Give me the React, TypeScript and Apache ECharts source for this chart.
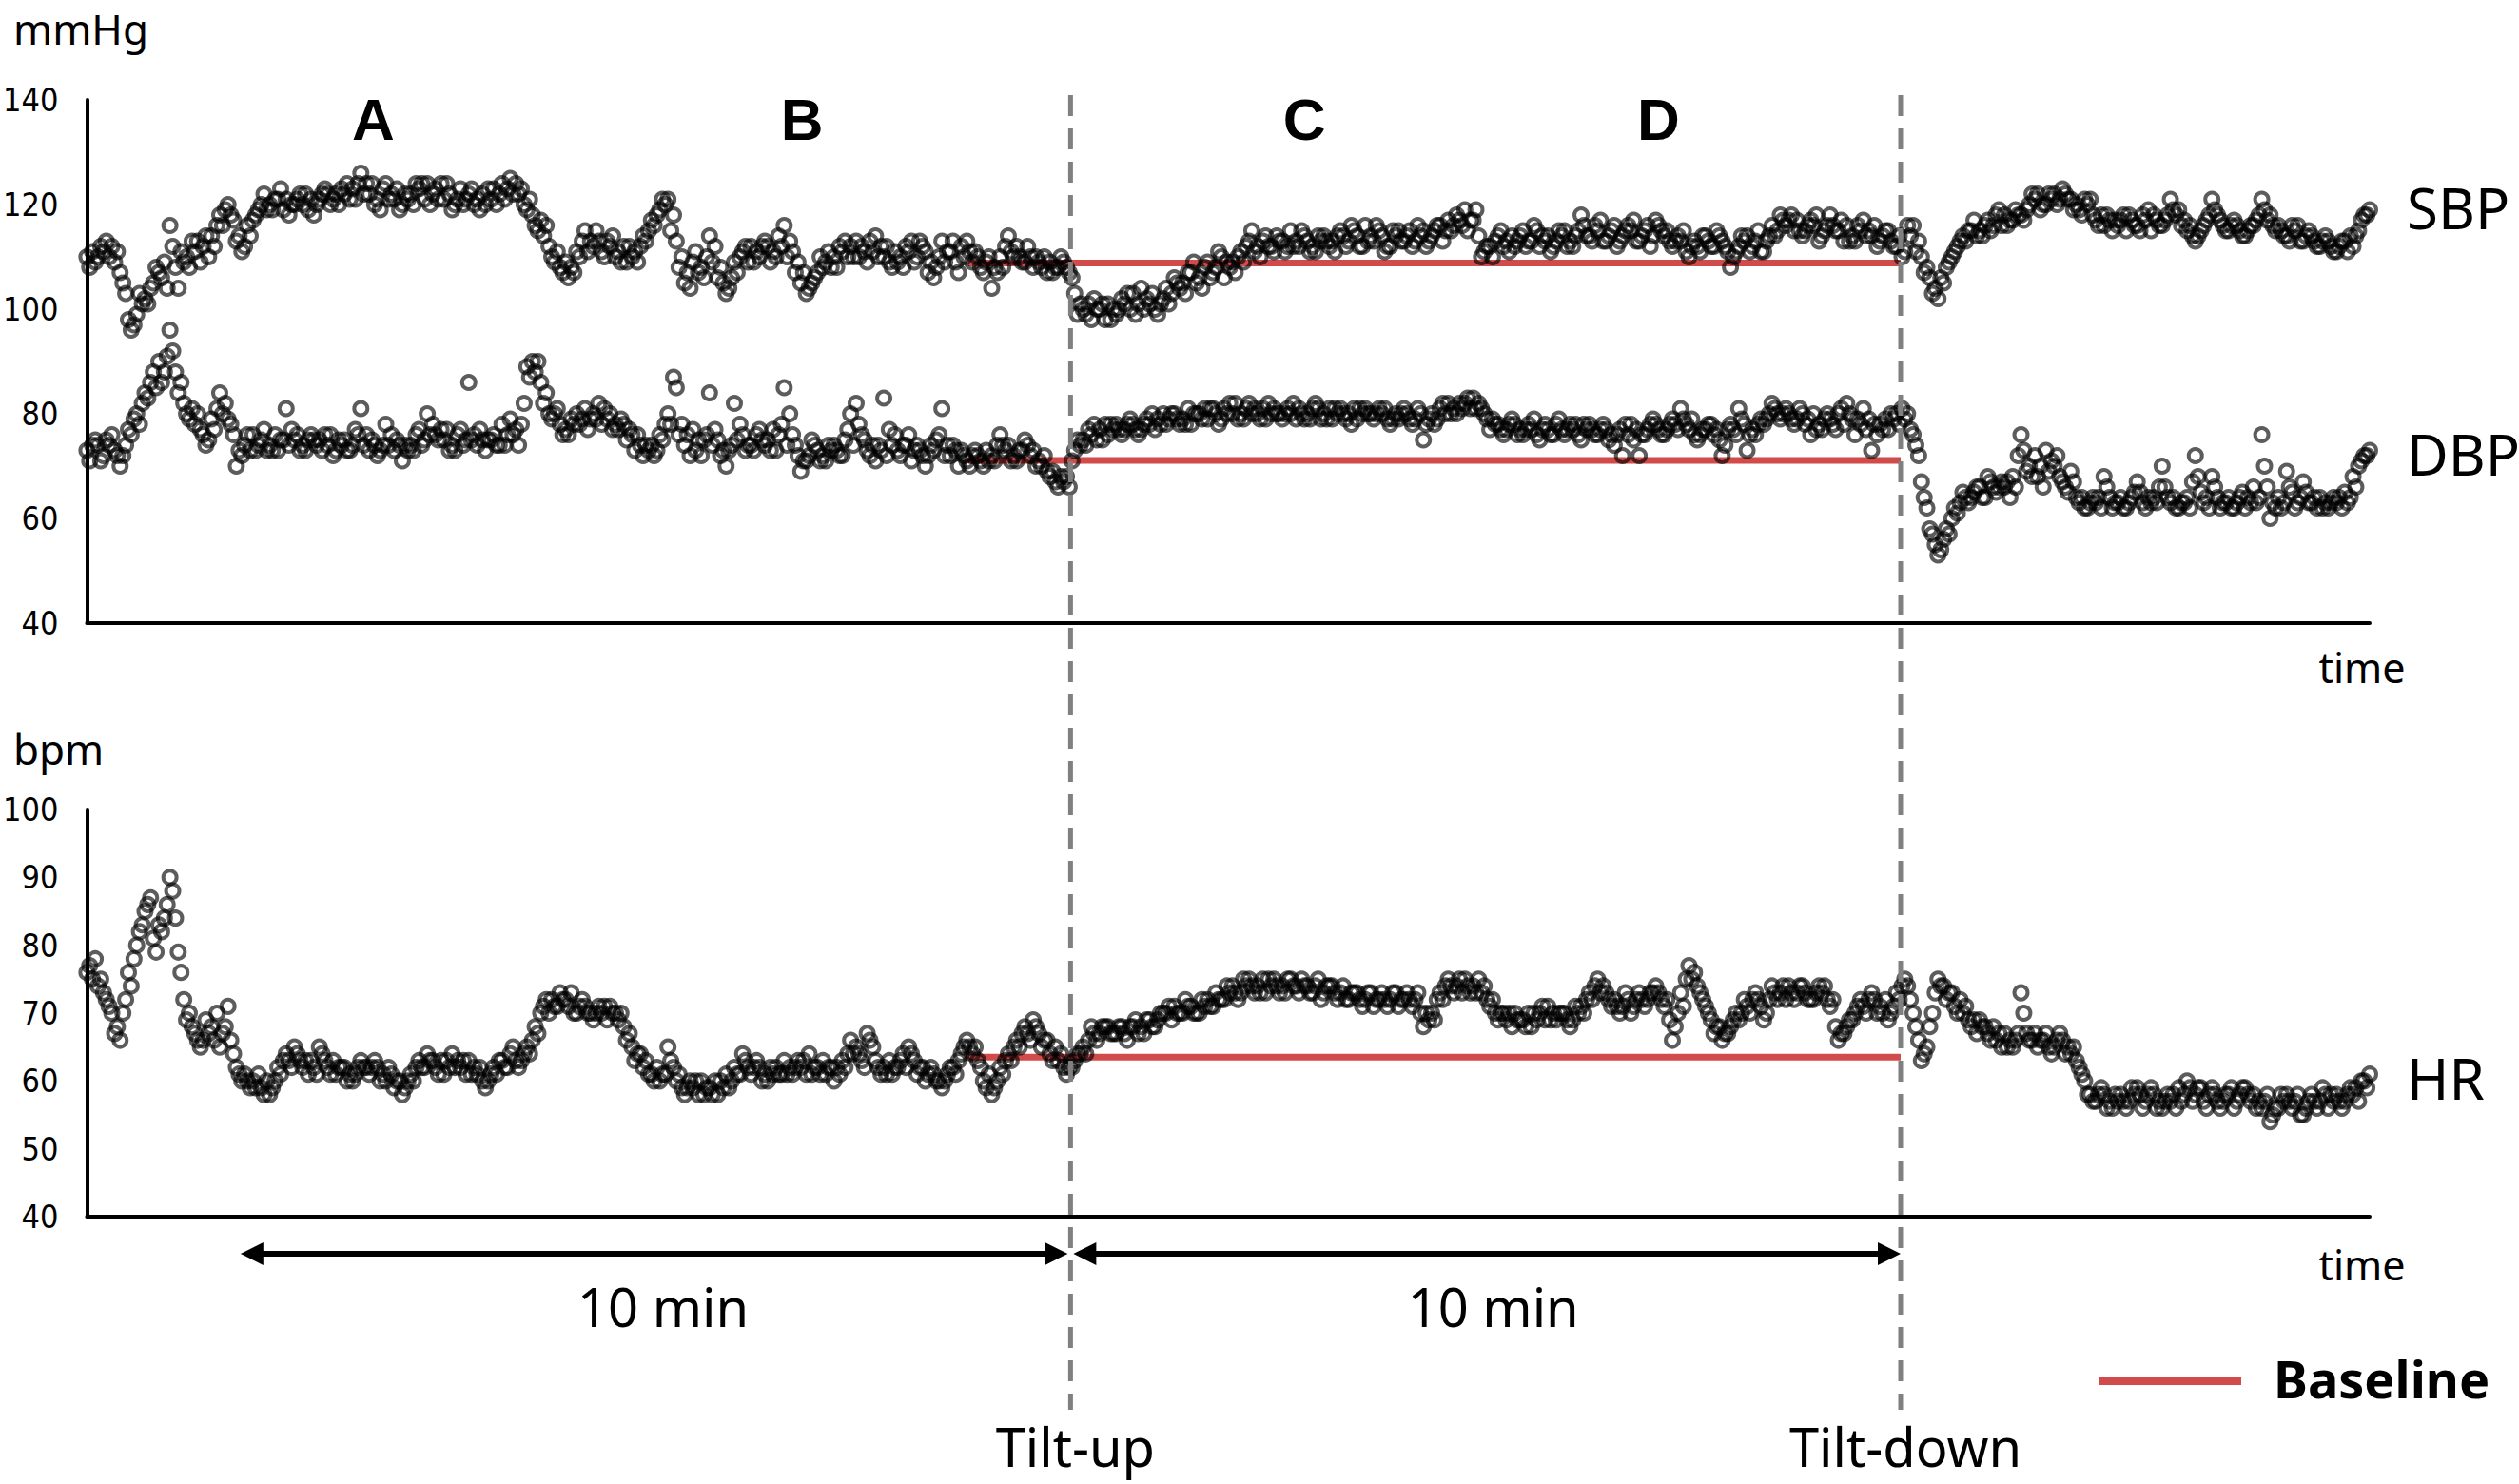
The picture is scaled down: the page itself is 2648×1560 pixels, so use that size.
import React, { useEffect, useRef } from "react";
import * as echarts from "echarts";

// ---------- data ----------
// Each series is read from the picture on three interleaved grids:
// "A" readings at t = 0, 6, 12 ... s, "C" readings at t = 2, 8, 14 ... s
// and "B" readings at t = 4, 10, 16 ... s.
const STEP_SECONDS = 6;
const OFFSET_B = 4;
const OFFSET_C = 2;
const TIME_MAX = 1650; // seconds on the time axis

const sbpA = [
  110, 109, 111, 112, 107, 98, 99, 102, 105, 106,
  116, 104, 110, 111, 112, 114, 118, 120, 113, 112,
  117, 120, 120, 121, 121, 120, 120, 121, 121, 122,
  122, 122, 123, 126, 122, 121, 124, 121, 120, 122,
  123, 124, 123, 121, 119, 123, 122, 121, 120, 123,
  124, 125, 122, 119, 116, 114, 110, 108, 106, 111,
  115, 112, 111, 112, 111, 109, 111, 114, 117, 119,
  121, 113, 105, 109, 108, 114, 106, 103, 109, 111,
  112, 110, 112, 110, 116, 111, 105, 104, 107, 109,
  110, 111, 112, 110, 109, 114, 110, 108, 110, 111,
  110, 111, 106, 113, 111, 107, 113, 111, 107, 104,
  110, 114, 112, 109, 108, 108, 109, 108, 108, 103,
  100, 98, 100, 101, 99, 101, 103, 104, 101, 99,
  104, 106, 105, 107, 106, 109, 108, 106, 109, 111,
  113, 112, 114, 111, 113, 115, 112, 113, 111, 114,
  113, 115, 113, 114, 116, 113, 114, 112, 115, 114,
  113, 115, 114, 116, 117, 118, 119, 117, 110, 112,
  114, 113, 112, 115, 113, 112, 114, 113, 115, 112,
  118, 114, 115, 113, 116, 114, 115, 113, 116, 117,
  114, 112, 113, 110, 112, 114, 112, 113, 108, 112,
  114, 113, 111, 116, 118, 117, 117, 115, 116, 114,
  118, 115, 116, 113, 117, 114, 113, 115, 112, 111,
  116, 110, 106, 102, 108, 111, 114, 115, 115, 117,
  118, 118, 117, 118, 120, 122, 120, 122, 123, 121,
  119, 120, 117, 116, 115, 117, 118, 116, 117, 118,
  116, 121, 119, 115, 113, 116, 121, 117, 115, 116,
  114, 116, 121, 118, 116, 114, 115, 113, 114, 112,
  113, 111, 113, 112, 117, 119,
];
const sbpB = [
  111, 112, 110, 111, 103, 97, 101, 104, 107, 104,
  108, 109, 113, 109, 110, 116, 119, 117, 111, 114,
  119, 119, 121, 119, 120, 122, 119, 120, 123, 121,
  123, 121, 124, 124, 120, 123, 122, 119, 121, 124,
  121, 122, 124, 122, 121, 121, 120, 122, 121, 122,
  123, 124, 120, 118, 117, 112, 111, 109, 107, 113,
  113, 113, 113, 110, 112, 110, 112, 115, 118, 120,
  118, 110, 104, 107, 110, 112, 105, 106, 110, 109,
  111, 113, 111, 112, 113, 109, 103, 106, 108, 108,
  112, 110, 113, 111, 111, 112, 109, 109, 112, 109,
  112, 109, 110, 111, 109, 110, 109, 108, 110, 107,
  112, 110, 109, 110, 109, 107, 108, 109, 106, 101,
  101, 100, 98, 100, 102, 100, 101, 102, 100, 102,
  103, 104, 107, 105, 108, 107, 110, 108, 110, 112,
  111, 113, 112, 113, 112, 113, 114, 112, 113, 112,
  114, 112, 115, 112, 114, 115, 112, 114, 113, 112,
  114, 113, 116, 115, 116, 116, 117, 114, 112, 113,
  112, 114, 114, 113, 115, 113, 112, 114, 113, 115,
  114, 116, 113, 115, 113, 116, 113, 115, 114, 115,
  113, 114, 111, 113, 114, 112, 114, 111, 111, 113,
  112, 111, 114, 115, 116, 115, 114, 117, 113, 116,
  115, 113, 114, 115, 115, 112, 115, 112, 110, 114,
  113, 108, 104, 105, 110, 113, 115, 114, 116, 116,
  116, 117, 118, 119, 121, 120, 121, 121, 121, 120,
  121, 118, 118, 117, 116, 115, 116, 118, 115, 116,
  118, 118, 117, 114, 115, 118, 118, 115, 117, 114,
  116, 118, 117, 115, 114, 116, 113, 115, 112, 114,
  111, 113, 114, 115, 118,
];
const sbpC = [
  108, 110, 113, 109, 105, 96, 103, 101, 108, 109,
  112, 111, 108, 113, 114, 112, 116, 118, 114, 116,
  118, 122, 119, 123, 118, 121, 122, 118, 122, 120,
  120, 124, 121, 122, 124, 119, 121, 123, 122, 120,
  124, 120, 121, 124, 120, 120, 123, 119, 123, 120,
  121, 122, 123, 121, 115, 116, 109, 107, 108, 110,
  111, 115, 110, 114, 109, 112, 109, 113, 116, 121,
  115, 108, 107, 111, 106, 109, 108, 104, 107, 112,
  109, 112, 109, 114, 110, 107, 107, 105, 110, 111,
  108, 113, 110, 112, 113, 110, 112, 111, 108, 113,
  113, 107, 108, 109, 113, 112, 111, 110, 109, 108,
  108, 111, 110, 112, 110, 110, 107, 110, 107, 99,
  99, 102, 101, 98, 100, 103, 99, 100, 103, 101,
  101, 105, 103, 109, 104, 106, 111, 109, 107, 109,
  115, 110, 112, 114, 111, 112, 115, 111, 114, 113,
  111, 114, 116, 112, 113, 116, 111, 115, 113, 115,
  116, 112, 115, 113, 115, 117, 115, 119, 111, 110,
  115, 111, 113, 112, 116, 114, 111, 115, 112, 114,
  116, 113, 117, 114, 112, 115, 117, 114, 112, 116,
  115, 113, 115, 112, 111, 113, 115, 112, 110, 114,
  111, 115, 113, 114, 117, 118, 115, 116, 118, 115,
  116, 117, 113, 116, 114, 116, 114, 113, 114, 116,
  111, 107, 103, 106, 109, 112, 113, 117, 114, 115,
  119, 116, 119, 117, 122, 119, 122, 120, 122, 119,
  118, 121, 116, 118, 117, 118, 117, 115, 119, 117,
  117, 119, 116, 116, 114, 117, 119, 116, 116, 115,
  115, 117, 119, 116, 115, 113, 116, 114, 113, 113,
  112, 112, 111, 114, 118,
];

const dbpA = [
  73, 75, 72, 76, 70, 77, 80, 84, 88, 86,
  96, 84, 80, 78, 76, 79, 84, 79, 70, 74,
  76, 75, 74, 73, 81, 75, 74, 76, 75, 74,
  73, 75, 74, 81, 73, 72, 78, 73, 71, 74,
  77, 80, 76, 75, 74, 77, 86, 74, 73, 76,
  78, 79, 74, 89, 88, 82, 79, 78, 76, 80,
  81, 80, 78, 80, 77, 75, 73, 72, 74, 76,
  80, 85, 74, 77, 72, 84, 75, 70, 82, 76,
  74, 77, 75, 73, 85, 76, 69, 72, 73, 71,
  74, 72, 80, 78, 73, 71, 83, 74, 72, 76,
  74, 70, 73, 81, 72, 70, 71, 73, 70, 72,
  76, 74, 71, 75, 73, 70, 68, 66, 68, 73,
  75, 76, 77, 76, 78, 77, 78, 77, 78, 79,
  78, 80, 79, 78, 80, 79, 80, 81, 80, 80,
  82, 80, 79, 81, 79, 80, 81, 80, 82, 80,
  79, 81, 80, 79, 81, 79, 80, 78, 79, 80,
  79, 75, 80, 81, 82, 80, 82, 83, 81, 77,
  78, 77, 78, 76, 77, 75, 77, 78, 76, 77,
  75, 78, 76, 77, 74, 72, 78, 72, 77, 78,
  76, 79, 81, 77, 75, 77, 76, 72, 78, 81,
  73, 76, 78, 82, 79, 80, 79, 78, 80, 77,
  79, 80, 82, 76, 81, 73, 78, 77, 80, 79,
  76, 67, 58, 53, 58, 62, 65, 64, 66, 68,
  65, 66, 68, 76, 70, 68, 73, 70, 67, 69,
  63, 62, 63, 68, 62, 64, 63, 67, 62, 64,
  70, 63, 62, 64, 72, 63, 68, 62, 64, 63,
  62, 66, 76, 60, 64, 69, 62, 67, 63, 64,
  62, 63, 65, 68, 71, 73,
];
const dbpB = [
  74, 71, 74, 72, 74, 79, 82, 86, 90, 91,
  88, 82, 81, 77, 75, 81, 82, 76, 72, 73,
  74, 73, 76, 75, 77, 73, 75, 74, 76, 72,
  74, 73, 76, 76, 74, 74, 76, 74, 73, 76,
  75, 78, 77, 73, 76, 75, 76, 75, 75, 74,
  76, 77, 82, 90, 86, 80, 81, 77, 78, 79,
  79, 82, 79, 78, 78, 76, 74, 73, 73, 78,
  87, 78, 72, 75, 76, 77, 73, 74, 78, 74,
  76, 74, 77, 78, 80, 72, 71, 74, 72, 73,
  72, 77, 82, 75, 74, 73, 77, 73, 74, 73,
  72, 74, 76, 74, 73, 72, 72, 71, 71, 74,
  73, 72, 73, 72, 71, 69, 67, 67, 71, 74,
  77, 75, 78, 77, 76, 79, 76, 79, 77, 80,
  80, 78, 81, 80, 81, 81, 79, 82, 79, 81,
  81, 81, 80, 80, 81, 79, 79, 81, 79, 81,
  80, 79, 81, 80, 80, 81, 79, 80, 81, 78,
  80, 79, 79, 80, 81, 81, 81, 82, 79, 78,
  76, 79, 77, 78, 76, 78, 76, 77, 78, 76,
  77, 76, 78, 76, 77, 76, 77, 76, 79, 76,
  78, 77, 78, 76, 77, 78, 75, 77, 76, 78,
  77, 79, 80, 80, 81, 78, 80, 76, 78, 80,
  77, 78, 79, 78, 79, 76, 79, 79, 81, 77,
  72, 62, 55, 56, 60, 63, 63, 66, 64, 66,
  67, 64, 72, 69, 72, 66, 71, 68, 65, 64,
  62, 64, 62, 64, 63, 62, 65, 63, 63, 66,
  64, 62, 63, 67, 65, 62, 64, 63, 62, 65,
  63, 64, 66, 62, 63, 65, 64, 63, 62, 63,
  64, 62, 64, 70, 72,
];
const dbpC = [
  71, 74, 75, 73, 72, 76, 78, 83, 85, 88,
  92, 86, 79, 80, 74, 77, 80, 78, 73, 76,
  73, 77, 73, 75, 74, 76, 73, 75, 73, 76,
  75, 73, 77, 74, 75, 73, 74, 75, 74, 73,
  74, 76, 75, 77, 73, 74, 75, 77, 75, 74,
  74, 76, 78, 87, 90, 84, 80, 76, 79, 78,
  77, 79, 81, 77, 79, 77, 76, 74, 72, 75,
  78, 76, 76, 73, 75, 74, 72, 73, 75, 73,
  73, 75, 73, 76, 74, 74, 71, 75, 71, 74,
  73, 75, 74, 76, 72, 74, 72, 76, 74, 71,
  73, 72, 75, 72, 74, 73, 70, 72, 73, 71,
  74, 71, 73, 74, 70, 72, 69, 68, 66, 75,
  74, 78, 75, 78, 77, 78, 77, 78, 80, 78,
  79, 79, 78, 80, 79, 81, 78, 80, 82, 79,
  80, 79, 82, 80, 80, 82, 80, 79, 81, 79,
  81, 80, 78, 81, 80, 80, 81, 79, 80, 79,
  81, 78, 78, 82, 80, 82, 83, 81, 80, 79,
  77, 78, 76, 77, 79, 77, 76, 79, 77, 78,
  78, 77, 77, 75, 76, 78, 75, 76, 78, 77,
  77, 78, 79, 79, 76, 78, 77, 74, 77, 79,
  76, 78, 79, 81, 80, 79, 81, 79, 77, 79,
  78, 81, 80, 79, 77, 78, 77, 80, 78, 80,
  74, 64, 57, 54, 57, 61, 64, 65, 64, 67,
  66, 67, 66, 73, 68, 70, 69, 72, 66, 67,
  64, 63, 64, 66, 63, 62, 64, 65, 64, 63,
  66, 64, 63, 62, 68, 64, 66, 63, 62, 64,
  64, 63, 70, 63, 62, 66, 63, 65, 64, 62,
  63, 64, 63, 66, 72,
];

const hrA = [
  76, 78, 73, 70, 66, 76, 80, 85, 81, 82,
  90, 79, 69, 67, 66, 68, 65, 71, 62, 61,
  60, 59, 58, 62, 64, 65, 62, 63, 65, 62,
  61, 62, 60, 63, 61, 62, 60, 59, 58, 61,
  63, 64, 62, 61, 64, 62, 63, 61, 59, 62,
  63, 64, 62, 65, 68, 71, 72, 73, 71, 70,
  71, 69, 70, 71, 69, 66, 63, 62, 61, 60,
  65, 60, 58, 59, 60, 59, 58, 61, 62, 64,
  61, 62, 60, 62, 63, 61, 62, 64, 62, 61,
  60, 63, 66, 64, 67, 63, 62, 61, 63, 65,
  61, 60, 61, 59, 62, 63, 66, 65, 60, 58,
  62, 64, 66, 68, 69, 65, 64, 63, 61, 63,
  65, 68, 67, 68, 67, 67, 68, 68, 69, 69,
  70, 71, 70, 71, 70, 72, 73, 72, 74, 73,
  75, 74, 73, 75, 74, 75, 73, 74, 74, 73,
  74, 73, 72, 73, 72, 71, 73, 72, 71, 73,
  72, 68, 70, 73, 75, 74, 75, 74, 73, 71,
  69, 69, 70, 69, 68, 70, 71, 69, 70, 69,
  71, 73, 75, 73, 72, 71, 70, 73, 72, 74,
  71, 66, 73, 77, 74, 71, 67, 66, 68, 69,
  71, 73, 69, 74, 73, 74, 73, 73, 72, 73,
  71, 66, 68, 70, 71, 73, 71, 69, 73, 75,
  70, 63, 68, 75, 72, 71, 70, 68, 69, 67,
  66, 67, 65, 73, 66, 65, 67, 65, 66, 64,
  62, 58, 57, 58, 56, 58, 57, 59, 57, 58,
  56, 57, 59, 60, 58, 57, 59, 56, 58, 57,
  59, 58, 56, 54, 56, 58, 57, 55, 58, 57,
  56, 58, 57, 58, 60, 61,
];
const hrB = [
  75, 75, 71, 68, 72, 78, 83, 87, 83, 86,
  84, 72, 68, 65, 67, 70, 68, 64, 60, 59,
  61, 60, 60, 63, 62, 63, 61, 61, 63, 63,
  62, 61, 62, 62, 63, 61, 61, 60, 60, 62,
  62, 63, 63, 62, 63, 61, 62, 60, 61, 63,
  62, 63, 64, 66, 70, 70, 71, 72, 70, 72,
  70, 71, 69, 70, 68, 65, 64, 61, 62, 61,
  62, 59, 60, 58, 59, 60, 59, 60, 61, 62,
  63, 61, 61, 61, 62, 63, 61, 62, 63, 62,
  61, 64, 65, 62, 65, 61, 63, 62, 62, 63,
  62, 62, 60, 61, 61, 65, 64, 62, 61, 60,
  63, 65, 67, 66, 67, 66, 65, 62, 62, 64,
  66, 66, 68, 67, 68, 68, 67, 69, 68, 70,
  69, 70, 71, 70, 71, 71, 72, 73, 72, 74,
  73, 75, 74, 73, 75, 74, 74, 73, 72, 74,
  72, 72, 73, 71, 73, 72, 71, 73, 72, 71,
  70, 69, 72, 74, 73, 73, 73, 75, 72, 70,
  70, 68, 69, 70, 69, 69, 70, 70, 68, 70,
  72, 74, 74, 71, 70, 72, 72, 71, 73, 72,
  69, 70, 75, 76, 72, 69, 68, 67, 70, 72,
  72, 71, 72, 72, 72, 72, 74, 72, 74, 72,
  68, 67, 69, 72, 72, 70, 72, 71, 74, 72,
  66, 65, 73, 74, 73, 72, 69, 67, 68, 68,
  65, 66, 67, 67, 67, 66, 64, 67, 65, 63,
  60, 57, 59, 57, 57, 56, 58, 56, 59, 57,
  58, 56, 58, 57, 59, 58, 57, 58, 56, 59,
  57, 57, 58, 56, 57, 56, 55, 57, 56, 58,
  57, 56, 59, 57, 59,
];
const hrC = [
  77, 74, 72, 67, 70, 74, 82, 86, 79, 84,
  88, 76, 70, 66, 69, 66, 67, 66, 61, 60,
  59, 58, 59, 61, 63, 64, 63, 62, 64, 61,
  62, 60, 61, 62, 62, 60, 62, 60, 59, 60,
  62, 63, 61, 63, 62, 63, 61, 62, 60, 61,
  62, 65, 63, 64, 67, 72, 71, 72, 73, 71,
  70, 70, 71, 70, 70, 67, 64, 63, 60, 61,
  63, 61, 59, 60, 58, 58, 60, 59, 61, 63,
  62, 60, 62, 61, 61, 62, 63, 61, 61, 62,
  62, 62, 64, 63, 66, 62, 61, 62, 64, 64,
  62, 61, 60, 60, 62, 64, 65, 63, 59, 59,
  61, 63, 65, 67, 68, 66, 63, 64, 62, 64,
  64, 67, 68, 67, 68, 66, 69, 67, 68, 70,
  71, 70, 72, 70, 72, 71, 72, 74, 73, 75,
  74, 73, 75, 74, 73, 74, 75, 73, 75, 74,
  73, 74, 73, 72, 73, 72, 72, 73, 72, 72,
  73, 70, 69, 72, 74, 75, 74, 73, 74, 72,
  70, 70, 69, 68, 70, 71, 69, 70, 69, 71,
  70, 72, 73, 72, 71, 73, 71, 72, 73, 73,
  72, 68, 71, 75, 73, 70, 68, 67, 69, 70,
  70, 72, 70, 73, 74, 73, 74, 72, 73, 74,
  72, 67, 69, 71, 70, 72, 70, 70, 72, 74,
  68, 64, 70, 74, 73, 70, 71, 69, 68, 66,
  67, 65, 66, 70, 66, 66, 65, 66, 64, 65,
  61, 58, 58, 56, 58, 57, 59, 58, 58, 56,
  57, 58, 57, 59, 59, 56, 58, 57, 59, 58,
  58, 56, 57, 55, 58, 57, 58, 56, 57, 59,
  58, 57, 58, 59, 60,
];

// baselines (mean of the pre-tilt period)
const baselineSBP = 108.8;
const baselineDBP = 71.1;
const baselineHR = 63.5;

// event times (s)
const baselineStart = 637;
const tenMinStart = 111;
const tiltUpTime = 711;
const tiltDownTime = 1311;

const phaseLabels = ["A", "B", "C", "D"];
const phaseTimes = [207, 517, 880, 1136];

// axis ticks
const bpAxis = { min: 40, max: 140, interval: 20 };
const hrAxis = { min: 40, max: 100, interval: 10 };

// ---------- styles ----------
const SANS = "'Noto Sans', 'Liberation Sans', sans-serif";
const NARROW = "'Liberation Sans Narrow', 'DejaVu Sans Condensed', 'Liberation Sans', sans-serif";
const RED = "#D24B4B";

const toPoints = (a: number[], b: number[], c: number[]) => [
  ...a.map((v, i) => [i * STEP_SECONDS, v]),
  ...c.map((v, i) => [i * STEP_SECONDS + OFFSET_C, v]),
  ...b.map((v, i) => [i * STEP_SECONDS + OFFSET_B, v]),
];

const scatterStyle = {
  type: "scatter" as const,
  symbol: "circle",
  symbolSize: 14,
  itemStyle: {
    color: "rgba(0,0,0,0)",
    borderColor: "rgba(0,0,0,0.8)",
    borderWidth: 4,
  },
  z: 3,
  silent: true,
};

const baselineSeries = (xi: number, value: number) => ({
  type: "line" as const,
  xAxisIndex: xi,
  yAxisIndex: xi,
  data: [
    [baselineStart, value],
    [tiltDownTime, value],
  ],
  symbol: "none",
  lineStyle: { color: RED, width: 7 },
  z: 2,
  silent: true,
});

const xAxisCommon = {
  type: "value" as const,
  min: 0,
  max: TIME_MAX,
  axisLine: { show: true, onZero: false, lineStyle: { color: "#000", width: 4 } },
  axisTick: { show: false },
  axisLabel: { show: false },
  splitLine: { show: false },
};

const yAxisCommon = {
  type: "value" as const,
  axisLine: { show: true, lineStyle: { color: "#000", width: 4 } },
  axisTick: { show: false },
  splitLine: { show: false },
  axisLabel: {
    color: "#000",
    fontSize: 34,
    fontFamily: NARROW,
    margin: 30,
  },
};

export default function App() {
  const ref = useRef<HTMLDivElement>(null);

  useEffect(() => {
    if (!ref.current) return;
    const chart = echarts.init(ref.current, undefined, { renderer: "svg" });

    chart.setOption({
      animation: false,
      backgroundColor: "#fff",
      grid: [
        { left: 88, top: 105, width: 2403, height: 550 },
        { left: 88, top: 851, width: 2403, height: 428 },
      ],
      xAxis: [
        { ...xAxisCommon, gridIndex: 0 },
        { ...xAxisCommon, gridIndex: 1 },
      ],
      yAxis: [
        { ...yAxisCommon, gridIndex: 0, ...bpAxis },
        { ...yAxisCommon, gridIndex: 1, ...hrAxis },
      ],
      series: [
        baselineSeries(0, baselineSBP),
        baselineSeries(0, baselineDBP),
        baselineSeries(1, baselineHR),
        { ...scatterStyle, name: "SBP", xAxisIndex: 0, yAxisIndex: 0, data: toPoints(sbpA, sbpB, sbpC) },
        { ...scatterStyle, name: "DBP", xAxisIndex: 0, yAxisIndex: 0, data: toPoints(dbpA, dbpB, dbpC) },
        { ...scatterStyle, name: "HR", xAxisIndex: 1, yAxisIndex: 1, data: toPoints(hrA, hrB, hrC) },
      ],
    });

    const xPix = (t: number) => chart.convertToPixel({ xAxisIndex: 0 }, t) as number;
    const yTop = chart.convertToPixel({ yAxisIndex: 0 }, bpAxis.max) as number;

    const xUp = xPix(tiltUpTime);
    const xDown = xPix(tiltDownTime);
    const xStart = xPix(tenMinStart);
    const arrowY = 1318;
    const head = 24;
    const halfH = 12;

    const text = (
      str: string,
      x: number,
      y: number,
      size: number,
      opts: { align?: string; weight?: string; family?: string } = {}
    ) => ({
      type: "text",
      x,
      y,
      z: 10,
      style: {
        text: str,
        fontSize: size,
        fontFamily: opts.family || SANS,
        fontWeight: opts.weight || "normal",
        fill: "#000",
        align: opts.align || "center",
        verticalAlign: "middle",
      },
    });

    const dashed = (x: number) => ({
      type: "line",
      z: 5,
      shape: { x1: x, y1: yTop - 5, x2: x, y2: 1482 },
      style: { stroke: "#808080", lineWidth: 5, lineDash: [22, 13] },
    });

    const arrow = (x1: number, x2: number) => [
      {
        type: "line",
        z: 6,
        shape: { x1: x1 + head - 2, y1: arrowY, x2: x2 - head + 2, y2: arrowY },
        style: { stroke: "#000", lineWidth: 6 },
      },
      {
        type: "polygon",
        z: 6,
        shape: { points: [[x1, arrowY], [x1 + head, arrowY - halfH], [x1 + head, arrowY + halfH]] },
        style: { fill: "#000" },
      },
      {
        type: "polygon",
        z: 6,
        shape: { points: [[x2, arrowY], [x2 - head, arrowY - halfH], [x2 - head, arrowY + halfH]] },
        style: { fill: "#000" },
      },
    ];

    chart.setOption({
      graphic: [
        dashed(xUp),
        dashed(xDown),
        ...arrow(xStart, xUp - 3),
        ...arrow(xUp + 3, xDown),
        text("mmHg", 14, 30, 44, { align: "left" }),
        text("bpm", 14, 787, 44, { align: "left" }),
        text("time", 2483, 701, 43),
        text("time", 2483, 1329, 43),
        text("SBP", 2530, 218, 60, { align: "left" }),
        text("DBP", 2530, 477, 60, { align: "left" }),
        text("HR", 2530, 1133, 60, { align: "left" }),
        ...phaseLabels.map((p, i) =>
          text(p, xPix(phaseTimes[i]), 125, 62, { weight: "bold", family: "'Liberation Sans', sans-serif" })
        ),
        text("10 min", (xStart + xUp) / 2 + 8, 1373, 56),
        text("10 min", (xUp + xDown) / 2 + 8, 1373, 56),
        text("Tilt-up", xUp + 5, 1520, 56),
        text("Tilt-down", xDown + 5, 1520, 56),
        {
          type: "line",
          z: 6,
          shape: { x1: 2207, y1: 1452, x2: 2356, y2: 1452 },
          style: { stroke: RED, lineWidth: 8 },
        },
        text("Baseline", 2390, 1449, 54, { align: "left", weight: "bold" }),
      ],
    });

    return () => chart.dispose();
  }, []);

  return (
    <div
      ref={ref}
      style={{ position: "absolute", left: 0, top: 0, width: 2648, height: 1560, background: "#fff" }}
    />
  );
}
